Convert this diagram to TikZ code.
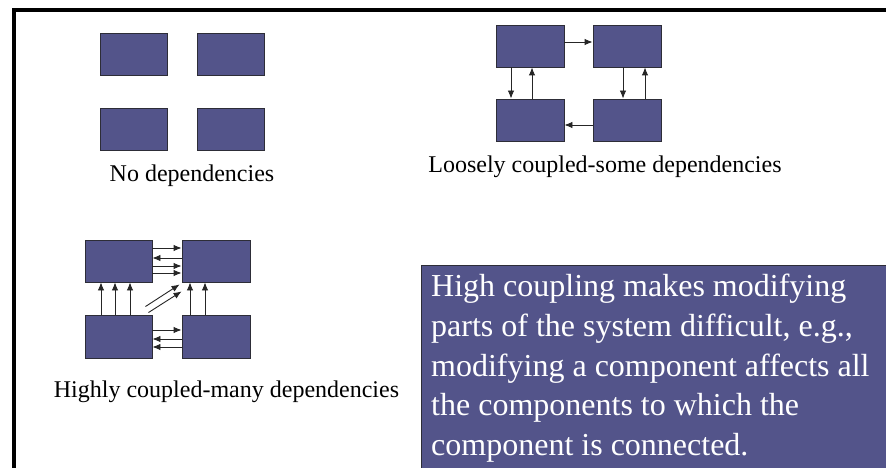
\documentclass[tikz,border=0pt]{standalone}
\usepackage{fontspec}
\setmainfont{Liberation Serif}
\usetikzlibrary{arrows.meta}
\definecolor{compfill}{RGB}{83,84,138}
\definecolor{compline}{RGB}{45,45,55}
\tikzset{
  comp/.style={draw=compline, fill=compfill, line width=0.9pt, minimum width=67pt, minimum height=42pt, inner sep=0pt},
  dep/.style={-{Latex[length=8pt,width=6.5pt]}, line width=0.9pt, black!85},
  caption/.style={font=\fontsize{24}{28}\selectfont, anchor=base, inner sep=0pt}
}
\begin{document}
\begin{tikzpicture}[x=1pt,y=-1pt]
  \useasboundingbox (0,0) rectangle (886,468);
  \fill[white] (0,0) rectangle (886,468);
  % slide frame
  \draw[line width=4pt] (14,472) -- (14,10) -- (890,10);

  % No dependencies
  \node[comp] (n1) at (133.5,54) {};
  \node[comp] (n2) at (230.5,54) {};
  \node[comp] (n3) at (133.5,129) {};
  \node[comp] (n4) at (230.5,129) {};
  \node[caption] (ncap) at (192,182) {No dependencies};

  % Loosely coupled
  \node[comp, minimum width=68pt] (l1) at (530,46) {};
  \node[comp, minimum width=68pt] (l2) at (627,46) {};
  \node[comp, minimum width=68pt] (l3) at (530,120) {};
  \node[comp, minimum width=68pt] (l4) at (627,120) {};
  \draw[dep] ([yshift=4pt]l1.east) -- ([yshift=4pt]l2.west);
  \draw[dep] ([xshift=-19pt]l1.south) -- ([xshift=-19pt]l3.north);
  \draw[dep] ([xshift=2pt]l3.north) -- ([xshift=2pt]l1.south);
  \draw[dep] ([xshift=-4pt]l2.south) -- ([xshift=-4pt]l4.north);
  \draw[dep] ([xshift=18pt]l4.north) -- ([xshift=18pt]l2.south);
  \draw[dep] ([yshift=-5pt]l4.west) -- ([yshift=-5pt]l3.east);
  \node[caption] (lcap) at (605,172) {Loosely coupled-some dependencies};

  % Highly coupled
  \node[comp] (h1) at (118.5,261) {};
  \node[comp, minimum width=68pt] (h2) at (216,261) {};
  \node[comp, minimum height=43pt] (h3) at (118.5,336.5) {};
  \node[comp, minimum width=68pt, minimum height=43pt] (h4) at (216,336.5) {};
  \foreach \dy in {13,-5,-12}
    \draw[dep] ([yshift=\dy pt]h1.east) -- ([yshift=\dy pt]h2.west);
  \draw[dep] ([yshift=3pt]h2.west) -- ([yshift=3pt]h1.east);
  \foreach \dx in {-17.5,-3.5,11.5}
    \draw[dep] ([xshift=\dx pt]h3.north) -- ([xshift=\dx pt]h1.south);
  \foreach \dx in {-26,-11}
    \draw[dep] ([xshift=\dx pt]h4.north) -- ([xshift=\dx pt]h2.south);
  \draw[dep] ([xshift=-7pt,yshift=8pt]h3.north east) -- ([xshift=-2pt,yshift=-2pt]h2.south west);
  \draw[dep] ([xshift=-4pt,yshift=2pt]h3.north east) -- ([yshift=-9pt]h2.south west);
  \draw[dep] ([yshift=6.5pt]h3.east) -- ([yshift=6.5pt]h4.west);
  \foreach \dy in {-2.5,-10.5}
    \draw[dep] ([yshift=\dy pt]h4.west) -- ([yshift=\dy pt]h3.east);
  \node[caption] (hcap) at (226.5,397) {Highly coupled-many dependencies};

  % note box
  \draw[compline, fill=compfill, line width=0.8pt] (421,265) rectangle (895,475);
  \node[anchor=north west, align=left, text=white, inner sep=0pt,
        font=\fontsize{32}{39.75}\selectfont] (note) at (431,274)
    {High coupling makes modifying\\
     parts of the system difficult, e.g.,\\
     modifying a component affects all\\
     the components to which the\\
     component is connected.};
\end{tikzpicture}
\end{document}
